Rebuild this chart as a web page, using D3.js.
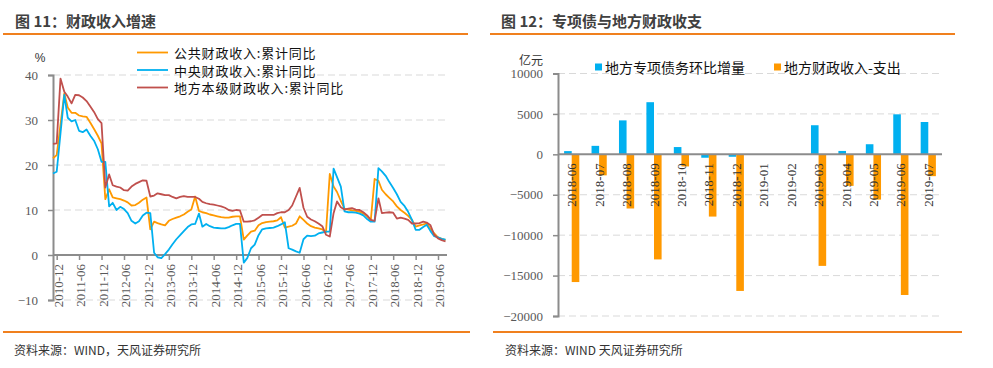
<!DOCTYPE html>
<html><head><meta charset="utf-8">
<script src="https://cdn.jsdelivr.net/npm/d3@7/dist/d3.min.js"></script>
<style>
body{margin:0;background:#fff;}
svg{display:block;}
.cjk{font-family:"Noto Sans CJK SC","Noto Sans",sans-serif;}
.num{font-family:"Liberation Serif","DejaVu Serif",serif;}
</style></head>
<body>
<svg id="c" width="993" height="368"></svg>
<script>
// ---------- Left chart data (monthly, 2010-11 .. 2019-08) ----------
const firstMonth = "2010-11";
const lastMonth = "2019-08";
const seriesNames = ["公共财政收入:累计同比","中央财政收入:累计同比","地方本级财政收入:累计同比"];
const publicRev = [21.5,22.2,29.0,35.9,32.8,31.6,31.6,31.0,30.8,30.7,29.4,28.0,26.5,24.8,
 12.4,14.6,12.8,12.6,12.4,12.1,11.7,11.0,11.1,11.6,12.3,12.8,
 5.7,7.4,7.1,6.8,6.6,7.6,8.0,8.3,8.6,9.0,9.6,10.1,
 13.0,9.8,9.5,9.3,9.0,8.8,8.6,8.4,8.3,8.3,8.5,8.6,
 8.6,3.4,4.3,5.2,5.4,6.6,7.1,7.3,7.4,7.5,7.7,8.4,
 6.1,6.3,6.5,7.0,8.6,7.8,7.0,6.4,6.1,5.9,5.7,5.0,
 18.0,15.2,14.0,12.0,10.3,10.1,9.9,9.8,9.6,9.2,8.6,7.8,
 16.9,16.5,14.5,13.5,12.7,11.9,10.8,10.0,9.4,8.7,7.8,6.3,
 6.6,6.8,7.0,5.8,4.8,3.9,3.6,3.3];
const centralRev = [18.1,18.5,27.0,35.6,30.5,29.7,30.0,27.6,27.3,27.9,26.5,25.4,23.5,20.7,
 20.7,10.8,11.6,10.0,10.7,10.2,9.3,7.6,7.0,7.5,8.8,9.4,
 9.3,0.5,-0.5,-0.7,0.2,1.2,2.4,3.5,4.4,5.3,6.2,6.8,
 6.9,9.2,6.3,6.9,6.4,6.1,6.0,5.9,5.9,6.2,6.6,6.9,
 6.9,-1.7,-0.7,1.5,2.3,4.4,5.7,5.9,6.0,6.1,6.4,6.8,
 7.3,1.5,1.2,0.8,0.5,3.5,4.3,4.2,4.3,4.8,5.0,5.2,
 5.2,19.2,17.3,15.2,9.7,9.5,9.5,9.4,9.2,8.8,8.0,7.4,
 7.4,19.3,18.6,17.6,16.2,14.9,13.5,11.8,10.9,9.6,7.8,5.6,
 5.6,6.2,6.7,5.3,4.2,3.9,3.6,3.4];
const localRev = [24.7,24.8,39.2,36.3,35.2,33.7,35.6,35.5,35.0,34.2,33.0,31.8,30.2,29.3,
 15.0,17.9,15.5,15.2,15.0,14.4,14.3,15.2,15.8,16.2,16.6,16.5,
 13.0,13.2,13.7,13.5,13.3,13.3,12.9,12.6,12.9,13.1,12.9,12.9,
 12.9,12.5,11.8,11.5,11.3,11.2,11.0,10.8,10.5,10.0,9.8,10.0,
 9.9,7.4,7.4,7.5,7.7,8.3,8.9,8.9,8.9,8.9,9.3,9.5,
 9.5,10.0,11.0,13.0,14.9,10.5,8.5,7.9,7.5,7.0,6.4,4.5,
 4.1,9.3,11.9,10.6,10.1,10.3,10.4,10.1,10.0,9.5,8.8,7.8,
 7.6,12.6,9.3,9.4,9.5,9.4,8.1,8.3,8.1,7.8,7.0,7.0,
 7.1,7.4,7.2,6.6,4.5,3.7,3.3,3.0];
const leftTickLabels = ["2010-12","2011-06","2011-12","2012-06","2012-12","2013-06","2013-12","2014-06","2014-12",
 "2015-06","2015-12","2016-06","2016-12","2017-06","2017-12","2018-06","2018-12","2019-06"];
const leftYTicks = [-10,0,10,20,30,40];

// ---------- Right chart data ----------
const barCats = ["2018-06","2018-07","2018-08","2018-09","2018-10","2018-11","2018-12",
 "2019-01","2019-02","2019-03","2019-04","2019-05","2019-06","2019-07"];
const barNames = ["地方专项债务环比增量","地方财政收入-支出"];
const specialBond = [400,1050,4200,6450,900,-420,-300,null,null,3600,420,1250,4950,4000];
const localBalance = [-15800,-2600,-6700,-13000,-1500,-7700,-16900,null,null,-13800,-3900,-5600,-17400,-2700];
const rightYTicks = [-20000,-15000,-10000,-5000,0,5000,10000];

const ORANGE_HDR = "#F0801E";
const C_ORANGE = "#FF9900", C_BLUE = "#00B0F0", C_RED = "#C0504D";
const AXIS = "#8C8C8C", GRID = "#D9D9D9", TICKTXT = "#595959";

const svg = d3.select("#c");
const parseM = d3.timeParse("%Y-%m");

// ---------- headers / footers ----------
svg.append("text").attr("class","cjk").attr("x",15).attr("y",20).attr("dominant-baseline","central")
  .attr("font-size",15).attr("font-weight","bold").attr("fill","#404040").text("图 11：财政收入增速");
svg.append("text").attr("class","cjk").attr("x",501).attr("y",20).attr("dominant-baseline","central")
  .attr("font-size",15).attr("font-weight","bold").attr("fill","#404040").text("图 12：专项债与地方财政收支");
[[3,468],[490,955]].forEach(([a,b])=>svg.append("line").attr("x1",a).attr("x2",b).attr("y1",34).attr("y2",34)
  .attr("stroke",ORANGE_HDR).attr("stroke-width",2));
[[3,470],[493,962]].forEach(([a,b])=>svg.append("line").attr("x1",a).attr("x2",b).attr("y1",332).attr("y2",332)
  .attr("stroke",ORANGE_HDR).attr("stroke-width",2));
svg.append("text").attr("class","cjk").attr("x",14).attr("y",349).attr("dominant-baseline","central")
  .attr("font-size",12).attr("fill","#333").text("资料来源：WIND，天风证券研究所");
svg.append("text").attr("class","cjk").attr("x",505).attr("y",349).attr("dominant-baseline","central")
  .attr("font-size",12).attr("fill","#333").text("资料来源：WIND 天风证券研究所");

// ---------- Left line chart ----------
const months = d3.timeMonth.range(parseM(firstMonth), d3.timeMonth.offset(parseM(lastMonth),1));
const xL = d3.scaleTime().domain([parseM(firstMonth), parseM(lastMonth)]).range([53, 445.5]);
const yL = d3.scaleLinear().domain([-10,40]).range([300,75]);
const gL = svg.append("g");
const plotR = 447;

// gridlines
gL.selectAll(".gl").data(leftYTicks.filter(d=>d!==0)).join("line")
  .attr("x1",53).attr("x2",plotR).attr("y1",d=>yL(d)).attr("y2",d=>yL(d))
  .attr("stroke",GRID).attr("stroke-width",1).attr("stroke-dasharray","7,4");
// y axis
const yAxL = d3.axisLeft(yL).tickValues(leftYTicks).tickSize(5).tickFormat(d3.format("d"));
const gy = gL.append("g").attr("transform","translate(53,0)").call(yAxL);
gy.select(".domain").attr("stroke",AXIS).attr("stroke-width",2);
gy.selectAll(".tick line").attr("stroke",AXIS).attr("stroke-width",1.5);
gy.selectAll("text").attr("class","num").attr("font-size",13).attr("fill",TICKTXT).attr("x",-15);
// x axis at 0
const tickDates = leftTickLabels.map(parseM);
const xAxL = d3.axisBottom(xL).tickValues(tickDates).tickSize(5).tickFormat(d3.timeFormat("%Y-%m"));
const gx = gL.append("g").attr("transform",`translate(0,${yL(0)})`).call(xAxL);
gx.select(".domain").attr("d",`M53,0H${plotR}`).attr("stroke",AXIS).attr("stroke-width",2);
gx.selectAll(".tick line").attr("stroke",AXIS).attr("stroke-width",1.5);
gx.selectAll("text").attr("class","num").attr("font-size",13).attr("fill",TICKTXT)
  .attr("text-anchor","end").attr("transform","translate(1,9) rotate(-90)").attr("x",0).attr("y",0).attr("dy","0.35em");
// % label
gL.append("text").attr("x",40).attr("y",58).attr("text-anchor","middle").attr("dominant-baseline","central")
  .attr("font-family","Liberation Sans, sans-serif").attr("font-size",12).attr("fill","#333").text("%");

const seriesL = [
  {name:seriesNames[0], vals:publicRev, color:C_ORANGE},
  {name:seriesNames[1], vals:centralRev, color:C_BLUE},
  {name:seriesNames[2], vals:localRev, color:C_RED}
];
const lineGen = d3.line().x(d=>xL(d[0])).y(d=>yL(d[1]));
seriesL.forEach(s=>{
  const pts = months.map((m,i)=>[m,s.vals[i]]).filter(d=>d[1]!=null);
  gL.append("path").attr("d",lineGen(pts)).attr("fill","none").attr("stroke",s.color)
    .attr("stroke-width",1.8).attr("stroke-linejoin","round");
});
// legend
seriesL.forEach((s,i)=>{
  const y = 52.5 + i*17.5;
  gL.append("line").attr("x1",137).attr("x2",168).attr("y1",y).attr("y2",y).attr("stroke",s.color).attr("stroke-width",1.8);
  gL.append("text").attr("class","cjk").attr("x",174).attr("y",y).attr("dominant-baseline","central")
    .attr("font-size",13).attr("letter-spacing","0.8px").attr("fill","#111").text(s.name);
});

// ---------- Right bar chart ----------
const xR = d3.scaleBand().domain(barCats).range([558, 942]).paddingInner(0).paddingOuter(0);
const yR = d3.scaleLinear().domain([-20000,10000]).range([316,73.5]);
const gR = svg.append("g");
const bw = 7.6;
gR.selectAll(".gr").data(rightYTicks.filter(d=>d!==0)).join("line")
  .attr("x1",558).attr("x2",942).attr("y1",d=>yR(d)).attr("y2",d=>yR(d))
  .attr("stroke",GRID).attr("stroke-width",1).attr("stroke-dasharray","7,4");
const yAxR = d3.axisLeft(yR).tickValues(rightYTicks).tickSize(5).tickFormat(d3.format("d"));
const gyR = gR.append("g").attr("transform","translate(558,0)").call(yAxR);
gyR.select(".domain").attr("stroke",AXIS).attr("stroke-width",2);
gyR.selectAll(".tick line").attr("stroke",AXIS).attr("stroke-width",1.5);
gyR.selectAll("text").attr("class","num").attr("font-size",13).attr("fill",TICKTXT).attr("x",-15);
gR.append("text").attr("class","cjk").attr("x",531).attr("y",59).attr("text-anchor","middle").attr("dominant-baseline","central")
  .attr("font-size",12).attr("fill","#333").text("亿元");

// bars
const barData = barCats.map((c,i)=>({c, a:specialBond[i], b:localBalance[i]}));
gR.selectAll(".ba").data(barData.filter(d=>d.a!=null)).join("rect")
  .attr("x",d=>xR(d.c)+xR.bandwidth()/2-bw).attr("width",bw)
  .attr("y",d=>yR(Math.max(0,d.a))).attr("height",d=>Math.abs(yR(d.a)-yR(0)))
  .attr("fill",C_BLUE);
gR.selectAll(".bb").data(barData.filter(d=>d.b!=null)).join("rect")
  .attr("x",d=>xR(d.c)+xR.bandwidth()/2).attr("width",bw)
  .attr("y",d=>yR(Math.max(0,d.b))).attr("height",d=>Math.abs(yR(d.b)-yR(0)))
  .attr("fill",C_ORANGE);
// x axis at zero
const xAxR = d3.axisBottom(xR).tickSize(0);
const gxR = gR.append("g").attr("transform",`translate(0,${yR(0)})`).call(xAxR);
gxR.select(".domain").attr("d","M558,0H942").attr("stroke",AXIS).attr("stroke-width",2);
gxR.selectAll("text").attr("class","num").attr("font-size",13).attr("fill","#333")
  .attr("text-anchor","end").attr("transform","translate(0,9) rotate(-90)").attr("x",0).attr("y",0).attr("dy","0.35em");

// legend
[[595,C_BLUE,barNames[0]],[774,C_ORANGE,barNames[1]]].forEach(([x,c,t])=>{
  gR.append("rect").attr("x",x).attr("y",63.5).attr("width",7).attr("height",7).attr("fill",c);
  gR.append("text").attr("class","cjk").attr("x",x+10).attr("y",67).attr("dominant-baseline","central")
    .attr("font-size",14).attr("fill","#111").text(t);
});
</script>
</body></html>
